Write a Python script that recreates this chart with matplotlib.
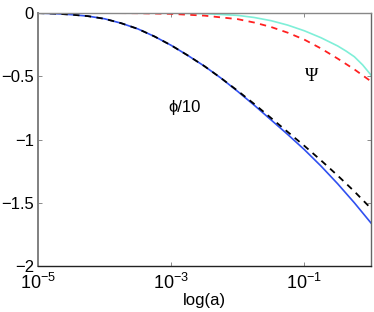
import numpy as np
import matplotlib
matplotlib.use('Agg')
import matplotlib.pyplot as plt

# values (x given as log10(a))
loga_phi = [-5.0, -4.75, -4.5, -4.25, -4.0, -3.75, -3.5, -3.25, -3.0, -2.75, -2.5,
            -2.25, -2.0, -1.75, -1.5, -1.25, -1.0, -0.75, -0.5, -0.25, 0.0]
phi_blue = [0.0, -0.004, -0.012, -0.024, -0.045, -0.08, -0.125, -0.185, -0.255, -0.335, -0.42,
            -0.515, -0.62, -0.73, -0.845, -0.96, -1.08, -1.21, -1.35, -1.50, -1.66]
phi_black = [0.0, -0.004, -0.012, -0.024, -0.045, -0.08, -0.125, -0.185, -0.255, -0.335, -0.42,
             -0.515, -0.615, -0.72, -0.83, -0.94, -1.05, -1.165, -1.285, -1.41, -1.545]

loga_cyan = [-5.0, -4.0, -3.0, -2.5, -2.0, -1.75, -1.5, -1.25, -1.0, -0.75, -0.5, -0.375, -0.25, -0.125, 0.0]
psi_cyan = [0.0, 0.0, 0.0, -0.004, -0.018, -0.035, -0.06, -0.095, -0.14, -0.195, -0.26, -0.30, -0.345, -0.41, -0.49]

loga_red = [-3.77, -3.5, -3.0, -2.5, -2.0, -1.75, -1.5, -1.25, -1.0, -0.75, -0.5, -0.25, 0.0]
psi_red = [0.0, -0.001, -0.006, -0.02, -0.048, -0.075, -0.11, -0.155, -0.21, -0.28, -0.36, -0.445, -0.54]

xticks = [1e-5, 1e-3, 1e-1]
xtick_labels = [r'$10^{-5}$', r'$10^{-3}$', r'$10^{-1}$']
yticks = [0, -0.5, -1, -1.5, -2]
ytick_labels = ['0', '\u22120.5', '\u22121', '\u22121.5', '\u22122']

plt.rcParams['font.family'] = ['Liberation Sans', 'DejaVu Sans']
plt.rcParams['mathtext.fontset'] = 'custom'
plt.rcParams['mathtext.rm'] = 'Liberation Sans'
plt.rcParams['mathtext.it'] = 'Liberation Sans:italic'
plt.rcParams['mathtext.default'] = 'regular'

fig = plt.figure(figsize=(3.74, 3.12), dpi=100)
ax = fig.add_axes([0.1016, 0.1474, 0.8904, 0.8106])

ax.plot(10 ** np.array(loga_cyan), psi_cyan, color='#7fefd8', lw=1.2)
ax.plot(10 ** np.array(loga_red), psi_red, color='#ff2020', lw=1.3, ls=(0, (3.5, 3)))
ax.plot(10 ** np.array(loga_phi), phi_blue, color='#3050f0', lw=1.2)
ax.plot(10 ** np.array(loga_phi), phi_black, color='black', lw=1.3, ls=(0, (3.5, 3)))

ax.set_xscale('log')
ax.set_xlim(1e-5, 1)
ax.set_ylim(-2, 0)
ax.set_xticks(xticks)
ax.set_xticklabels(xtick_labels, fontsize=13)
ax.xaxis.set_minor_locator(matplotlib.ticker.NullLocator())
ax.set_yticks(yticks)
ax.set_yticklabels(ytick_labels, fontsize=12)
ax.tick_params(direction='in', length=3, width=0.6, color='#777777',
               top=True, right=True, pad=3)
ax.tick_params(axis='x', pad=5)

ax.set_xlabel('log(a)', fontsize=12, labelpad=0)

ax.text(1.6e-3, -0.75, '\u03d5/10', fontsize=12, ha='center', va='center')
ax.text(1.3e-1, -0.50, '\u03a8', fontsize=13, ha='center', va='center',
        family=['Liberation Serif', 'DejaVu Serif'])

ax.spines['left'].set_color('#808080')
ax.spines['left'].set_linewidth(1.4)
ax.spines['top'].set_color('#888888')
ax.spines['right'].set_color('#666666')
ax.spines['bottom'].set_color('#222222')
for s in ax.spines.values():
    if s is not ax.spines['left']:
        s.set_linewidth(1.0)

fig.savefig('out.png', dpi=100)
